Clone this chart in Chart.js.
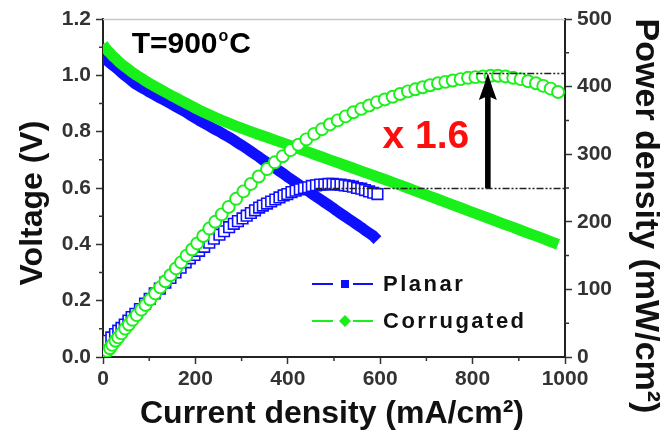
<!DOCTYPE html>
<html>
<head>
<meta charset="utf-8">
<script src="https://cdn.jsdelivr.net/npm/chart.js@4.4.1/dist/chart.umd.min.js"></script>
<style>
  html, body { margin: 0; padding: 0; background: #fff; }
  #wrap { width: 669px; height: 435px; }
</style>
</head>
<body>
<div id="wrap"><canvas id="chart" width="669" height="435"></canvas></div>
<script>
// Planar cell: current density (mA/cm2), voltage (V), power density (mW/cm2)
const planarCurrent = [0, 4, 11, 18, 26, 33, 40, 47, 55, 62,
  70, 80, 91, 101, 112, 123, 135, 146, 157, 168,
  179, 188, 198, 208, 219, 230, 240, 252, 262, 273,
  283, 292, 302, 311, 320, 329, 338, 346, 355, 364,
  373, 382, 391, 399, 408, 417, 426, 435, 444, 452,
  461, 470, 479, 488, 497, 505, 514, 523, 532, 541,
  550, 559, 567, 576, 585, 594];
const planarVoltage = [1.066, 1.06, 1.05, 1.04, 1.03, 1.02, 1.01, 1.00, 0.99, 0.98,
  0.97, 0.96, 0.95, 0.94, 0.93, 0.92, 0.91, 0.90, 0.89, 0.88,
  0.87, 0.86, 0.85, 0.84, 0.83, 0.82, 0.81, 0.80, 0.79, 0.78,
  0.77, 0.76, 0.75, 0.74, 0.73, 0.72, 0.71, 0.70, 0.69, 0.68,
  0.67, 0.66, 0.65, 0.64, 0.63, 0.62, 0.61, 0.60, 0.59, 0.58,
  0.57, 0.56, 0.55, 0.54, 0.53, 0.52, 0.51, 0.50, 0.49, 0.48,
  0.47, 0.46, 0.45, 0.44, 0.43, 0.415];
const planarPower = [18, 20, 24, 29, 34, 39, 43, 48, 54, 59,
  64, 71, 79, 86, 94, 101, 110, 117, 125, 132,
  140, 146, 151, 157, 163, 169, 175, 181, 186, 192,
  197, 201, 205, 209, 213, 217, 221, 224, 227, 230,
  233, 236, 239, 241, 244, 246, 248, 250, 251, 253,
  254, 255, 255, 256, 256, 255, 255, 254, 253, 252,
  250, 249, 247, 245, 243, 241];

// Corrugated cell
const corrugatedCurrent = [0, 4, 9, 15, 20, 27, 33, 40, 48, 56,
  64, 73, 83, 92, 102, 113, 124, 135, 146, 158,
  169, 181, 193, 204, 217, 230, 243, 257, 272, 288,
  304, 320, 337, 355, 372, 389, 406, 423, 440, 457,
  474, 491, 508, 525, 542, 559, 576, 593, 610, 627,
  643, 660, 676, 692, 708, 725, 741, 757, 774, 790,
  806, 822, 839, 855, 871, 888, 904, 920, 937, 953,
  969, 985];
const corrugatedVoltage = [1.11, 1.10, 1.09, 1.08, 1.07, 1.06, 1.05, 1.04, 1.03, 1.02,
  1.01, 1.00, 0.99, 0.98, 0.97, 0.96, 0.95, 0.94, 0.93, 0.92,
  0.91, 0.90, 0.89, 0.88, 0.87, 0.86, 0.85, 0.84, 0.83, 0.82,
  0.81, 0.80, 0.79, 0.78, 0.77, 0.76, 0.75, 0.74, 0.73, 0.72,
  0.71, 0.70, 0.69, 0.68, 0.67, 0.66, 0.65, 0.64, 0.63, 0.62,
  0.61, 0.60, 0.59, 0.58, 0.57, 0.56, 0.55, 0.54, 0.53, 0.52,
  0.51, 0.50, 0.49, 0.48, 0.47, 0.46, 0.45, 0.44, 0.43, 0.42,
  0.41, 0.40];
const corrugatedPower = [2, 5, 9, 13, 18, 24, 29, 35, 42, 48,
  55, 62, 70, 77, 85, 94, 103, 112, 121, 131,
  140, 150, 159, 168, 179, 190, 200, 211, 222, 234,
  245, 256, 267, 278, 288, 297, 306, 314, 322, 330,
  337, 344, 350, 356, 362, 367, 372, 377, 381, 385,
  389, 393, 396, 399, 402, 405, 407, 409, 411, 413,
  414, 415, 416, 416, 415, 413, 411, 408, 405, 401,
  397, 392];

// axis ticks
const currentTicks = [0, 200, 400, 600, 800, 1000];
const voltageTicks = [0, 0.2, 0.4, 0.6, 0.8, 1.0, 1.2];
const powerTicks = [0, 100, 200, 300, 400, 500];

// peak power comparison (mW/cm2) and where the dashed guides start (mA/cm2)
const peakLevels = [250, 420];
const peakLevelStart = [460, 808];
const arrowCurrent = 833;

const BLUE = '#0f0fff';
const GREEN = '#19f019';
const FONT = '"Liberation Sans", Arial, sans-serif';

const toPoints = (xs, ys) => xs.map((x, i) => ({ x: x, y: ys[i] }));

// minor ticks, frame, guides, arrow, labels, legend and axis titles
const decorPlugin = {
  id: 'decor',
  afterDraw(chart) {
    const { ctx, chartArea: a, scales } = chart;
    const x = scales.x, y = scales.y, y1 = scales.y1;
    ctx.save();

    // light top frame
    ctx.strokeStyle = '#c8c8c8';
    ctx.lineWidth = 1.5;
    ctx.beginPath();
    ctx.moveTo(a.left, a.top + 0.5);
    ctx.lineTo(a.right, a.top + 0.5);
    ctx.stroke();

    // minor ticks halfway between the major ones
    ctx.strokeStyle = '#333';
    ctx.lineWidth = 1.5;
    ctx.beginPath();
    for (let i = 0; i < currentTicks.length - 1; i++) {
      const px = x.getPixelForValue((currentTicks[i] + currentTicks[i + 1]) / 2);
      ctx.moveTo(px, a.bottom); ctx.lineTo(px, a.bottom + 4);
    }
    for (let i = 0; i < voltageTicks.length - 1; i++) {
      const py = y.getPixelForValue((voltageTicks[i] + voltageTicks[i + 1]) / 2);
      ctx.moveTo(a.left, py); ctx.lineTo(a.left - 4, py);
    }
    for (let i = 0; i < powerTicks.length - 1; i++) {
      const py = y1.getPixelForValue((powerTicks[i] + powerTicks[i + 1]) / 2);
      ctx.moveTo(a.right, py); ctx.lineTo(a.right + 4, py);
    }
    ctx.stroke();

    // dashed peak-power guides
    ctx.strokeStyle = '#222';
    ctx.lineWidth = 1.4;
    ctx.setLineDash([7, 2, 2, 2, 2, 2]);
    peakLevels.forEach((lvl, i) => {
      const py = Math.round(y1.getPixelForValue(lvl)) + 0.5;
      ctx.beginPath();
      ctx.moveTo(x.getPixelForValue(peakLevelStart[i]), py);
      ctx.lineTo(a.right, py);
      ctx.stroke();
    });
    ctx.setLineDash([]);

    // arrow between the two peaks
    const ax = x.getPixelForValue(arrowCurrent);
    const yTail = y1.getPixelForValue(peakLevels[0]);
    const yTip = y1.getPixelForValue(peakLevels[1]);
    ctx.fillStyle = '#000';
    ctx.fillRect(ax - 2.8, yTip + 20, 5.6, yTail - yTip - 20);
    ctx.beginPath();
    ctx.moveTo(ax, yTip);
    ctx.quadraticCurveTo(ax + 4, yTip + 14, ax + 9, yTip + 27);
    ctx.lineTo(ax, yTip + 23);
    ctx.lineTo(ax - 9, yTip + 27);
    ctx.quadraticCurveTo(ax - 4, yTip + 14, ax, yTip);
    ctx.closePath();
    ctx.fill();

    // "x 1.6"
    ctx.fillStyle = '#ff0d0d';
    ctx.font = 'bold 39px ' + FONT;
    ctx.textAlign = 'left';
    ctx.textBaseline = 'alphabetic';
    ctx.fillText('x 1.6', x.getPixelForValue(605), y1.getPixelForValue(309));

    // temperature label
    ctx.fillStyle = '#000';
    let tx = x.getPixelForValue(62);
    const ty = y.getPixelForValue(1.08);
    ctx.font = 'bold 30px ' + FONT;
    ctx.fillText('T=900', tx, ty);
    tx += ctx.measureText('T=900').width + 1;
    ctx.font = 'bold 16px ' + FONT;
    ctx.fillText('o', tx, ty - 12);
    tx += ctx.measureText('o').width + 1;
    ctx.font = 'bold 30px ' + FONT;
    ctx.fillText('C', tx, ty);

    // legend: line - marker - line, then label
    const rows = [
      { ds: chart.data.datasets[3], y: a.top + 265 },
      { ds: chart.data.datasets[2], y: a.top + 302 }
    ];
    const lx = a.left + 209;
    rows.forEach(r => {
      ctx.strokeStyle = r.ds.borderColor;
      ctx.fillStyle = r.ds.borderColor;
      ctx.lineWidth = 2;
      ctx.beginPath();
      ctx.moveTo(lx, r.y); ctx.lineTo(lx + 21, r.y);
      ctx.moveTo(lx + 41, r.y); ctx.lineTo(lx + 61, r.y);
      ctx.stroke();
      const mx = lx + 33;
      ctx.beginPath();
      if (r.ds.pointStyle === 'rectRot') {
        ctx.moveTo(mx, r.y - 6); ctx.lineTo(mx + 6, r.y);
        ctx.lineTo(mx, r.y + 6); ctx.lineTo(mx - 6, r.y);
        ctx.closePath();
      } else {
        ctx.rect(mx - 4, r.y - 4, 8, 8);
      }
      ctx.fill();
      ctx.fillStyle = '#111';
      ctx.font = 'bold 22px ' + FONT;
      ctx.letterSpacing = '2.5px';
      ctx.textBaseline = 'middle';
      ctx.fillText(r.ds.label, lx + 71, r.y + 1);
      ctx.letterSpacing = '0px';
    });

    // axis titles
    ctx.fillStyle = '#111';
    ctx.textAlign = 'center';
    ctx.textBaseline = 'middle';
    ctx.font = 'bold 32px ' + FONT;
    ctx.fillText('Current density (mA/cm\u00b2)', (a.left + a.right) / 2 - 2, 414);

    ctx.save();
    ctx.translate(33, 203);
    ctx.rotate(-Math.PI / 2);
    ctx.fillText('Voltage (V)', 0, 0);
    ctx.restore();

    ctx.save();
    ctx.translate(645, 216);
    ctx.rotate(Math.PI / 2);
    ctx.font = 'bold 34px ' + FONT;
    ctx.fillText('Power density (mW/cm\u00b2)', 0, 0);
    ctx.restore();

    ctx.restore();
  }
};

const tickFont = { family: FONT, size: 21, weight: 'bold' };
const axisGrid = { drawOnChartArea: false, drawTicks: true, tickLength: 7, tickColor: '#333', tickWidth: 1.5 };
const axisBorder = { display: true, color: '#222', width: 2 };
const useTicks = list => scale => { scale.ticks = list.map(v => ({ value: v })); };

new Chart(document.getElementById('chart'), {
  type: 'scatter',
  data: {
    datasets: [
      {
        label: 'Corrugated power',
        data: toPoints(corrugatedCurrent, corrugatedPower),
        yAxisID: 'y1',
        showLine: false,
        pointStyle: 'circle',
        pointRadius: 6,
        pointBorderWidth: 1.9,
        pointBorderColor: GREEN,
        pointBackgroundColor: '#fff',
        order: 1
      },
      {
        label: 'Planar power',
        data: toPoints(planarCurrent, planarPower),
        yAxisID: 'y1',
        showLine: false,
        pointStyle: 'rect',
        pointRadius: 7.5,
        pointBorderWidth: 1.6,
        pointBorderColor: BLUE,
        pointBackgroundColor: '#fff',
        order: 2
      },
      {
        label: 'Corrugated',
        data: toPoints(corrugatedCurrent, corrugatedVoltage),
        yAxisID: 'y',
        showLine: true,
        borderColor: GREEN,
        backgroundColor: GREEN,
        borderWidth: 11,
        borderJoinStyle: 'round',
        pointRadius: 0,
        pointStyle: 'rectRot',
        order: 3
      },
      {
        label: 'Planar',
        data: toPoints(planarCurrent, planarVoltage),
        yAxisID: 'y',
        showLine: true,
        borderColor: BLUE,
        backgroundColor: BLUE,
        borderWidth: 11,
        borderJoinStyle: 'round',
        pointRadius: 0,
        pointStyle: 'rect',
        order: 4
      }
    ]
  },
  options: {
    responsive: false,
    devicePixelRatio: 1,
    animation: false,
    events: [],
    layout: { padding: { top: 19, left: 0, right: 0, bottom: 0 } },
    plugins: {
      legend: { display: false },
      tooltip: { enabled: false }
    },
    scales: {
      x: {
        type: 'linear',
        min: 0,
        max: 1000,
        afterBuildTicks: useTicks(currentTicks),
        ticks: { font: tickFont, color: '#333', padding: 3, maxRotation: 0, callback: v => String(v) },
        grid: axisGrid,
        border: axisBorder,
        afterFit: s => { s.height = 78; }
      },
      y: {
        position: 'left',
        min: 0,
        max: 1.2,
        afterBuildTicks: useTicks(voltageTicks),
        ticks: { font: tickFont, color: '#333', padding: 5, callback: v => v.toFixed(1) },
        grid: axisGrid,
        border: axisBorder,
        afterFit: s => { s.width = 103; }
      },
      y1: {
        position: 'right',
        min: 0,
        max: 500,
        afterBuildTicks: useTicks(powerTicks),
        ticks: { font: tickFont, color: '#333', padding: 5, callback: v => String(v) },
        grid: axisGrid,
        border: axisBorder,
        afterFit: s => { s.width = 104; }
      }
    }
  },
  plugins: [decorPlugin]
});
</script>
</body>
</html>
